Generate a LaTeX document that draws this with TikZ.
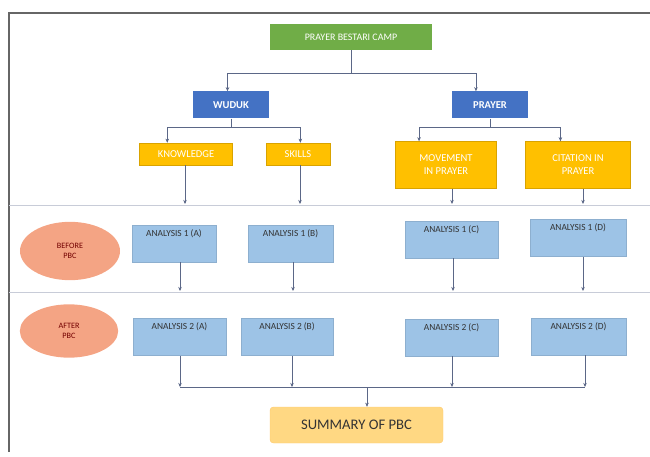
\documentclass[tikz,border=0pt]{standalone}
\usepackage{fontspec}
\setmainfont{Carlito}
\usetikzlibrary{arrows.meta,shapes.geometric}
\definecolor{fgreen}{HTML}{70AD47}
\definecolor{fblue}{HTML}{4472C4}
\definecolor{fyellow}{HTML}{FFC000}
\definecolor{flight}{HTML}{9DC3E6}
\definecolor{fsalmon}{HTML}{F4A484}
\definecolor{fsum}{HTML}{FFD883}
\definecolor{farrow}{HTML}{5B6787}
\definecolor{fsep}{HTML}{C8CCD8}
\begin{document}
\begin{tikzpicture}[x=0.03cm,y=-0.03cm,
  box/.style={draw=none,inner sep=1pt,align=center},
  topbox/.style={box,fill=fgreen,text=white,font=\fontsize{8.5}{10}\selectfont,minimum width=4.86cm,minimum height=0.78cm},
  bluebox/.style={box,fill=fblue,text=white,font=\fontsize{9}{10}\selectfont\bfseries,minimum width=2.28cm,minimum height=0.81cm},
  yelbox/.style={box,fill=fyellow,draw=fyellow!85!black,line width=0.4pt,text=white,font=\fontsize{9}{11}\selectfont},
  anbox/.style={box,fill=flight,draw=flight!90!black,line width=0.3pt,minimum height=1.12cm},
  antext/.style={text=black!80,font=\fontsize{8}{9.5}\selectfont,inner sep=4pt},
  phase/.style={ellipse,fill=fsalmon,text=red!45!black,font=\fontsize{7}{8.5}\selectfont,align=center,inner sep=0pt},
  conn/.style={draw=farrow,line width=0.4pt},
  arr/.style={conn,-{Stealth[length=3.5pt,width=3pt]}},
  sep/.style={draw=fsep,line width=0.8pt}
]
\useasboundingbox (0,0) rectangle (650,457);
% frame
\draw[black!60,line width=1.2pt] (9,452) -- (9,13) -- (650,13);
\draw[sep] (9,205) -- (650,205);
\draw[sep] (9,292) -- (650,292);

% nodes
\node[topbox] (camp) at (351,37) {PRAYER BESTARI CAMP};
\node[bluebox] (wuduk) at (231,105) {WUDUK};
\node[bluebox] (prayer) at (490,105) {PRAYER};
\node[yelbox,minimum width=2.79cm,minimum height=0.66cm] (know) at (186,154) {KNOWLEDGE};
\node[yelbox,minimum width=1.92cm,minimum height=0.66cm] (skill) at (298,154) {SKILLS};
\node[yelbox,minimum width=3.03cm,minimum height=1.41cm] (move) at (446,165) {MOVEMENT\\IN PRAYER};
\node[yelbox,minimum width=3.15cm,minimum height=1.41cm] (cite) at (578,165) {CITATION IN\\PRAYER};

\node[phase,minimum width=3.0cm,minimum height=1.75cm] (before) at (70,251) {BEFORE\\PBC};
\node[phase,minimum width=2.95cm,minimum height=1.6cm] (after) at (69,331) {AFTER\\PBC};

\node[anbox,minimum width=2.52cm,label={[antext,anchor=north]north:ANALYSIS 1 (A)}] (a1) at (174,243.5) {};
\node[anbox,minimum width=2.55cm,label={[antext,anchor=north]north:ANALYSIS 1 (B)}] (b1) at (290.5,243.5) {};
\node[anbox,minimum width=2.79cm,label={[antext,anchor=north]north:ANALYSIS 1 (C)}] (c1) at (451.5,239.5) {};
\node[anbox,minimum width=2.88cm,label={[antext,anchor=north]north:ANALYSIS 1 (D)}] (d1) at (578,238) {};

\node[anbox,minimum width=2.79cm,label={[antext,anchor=north]north:ANALYSIS 2 (A)}] (a2) at (179.5,337) {};
\node[anbox,minimum width=2.76cm,label={[antext,anchor=north]north:ANALYSIS 2 (B)}] (b2) at (287,337) {};
\node[anbox,minimum width=2.79cm,label={[antext,anchor=north]north:ANALYSIS 2 (C)}] (c2) at (451.5,337.5) {};
\node[anbox,minimum width=2.85cm,label={[antext,anchor=north]north:ANALYSIS 2 (D)}] (d2) at (578.5,336.5) {};

\node[box,fill=fsum,draw=fsum!85!orange,rounded corners=3pt,minimum width=5.19cm,minimum height=1.08cm,text=black!80,font=\fontsize{12.5}{14}\selectfont] (sum) at (356.5,425) {SUMMARY OF PBC};

% coordinates
\coordinate (j0) at (351,73);
\coordinate (jw) at (231,127);
\coordinate (jp) at (490,127);
\coordinate (r1a) at (185,204);
\coordinate (r1b) at (300,204);
\coordinate (r1c) at (452,204);
\coordinate (r1d) at (583,204);
\coordinate (r2a) at (180,291);
\coordinate (r2b) at (293,291);
\coordinate (r2c) at (453,291);
\coordinate (r2d) at (583,291);
\coordinate (r3a) at (180,387);
\coordinate (r3b) at (292,387);
\coordinate (r3c) at (452,387);
\coordinate (r3d) at (585,387);
\coordinate (js) at (367,388);

% connectors
\draw[conn] (camp.south) -- (j0);
\draw[arr] (j0) -| ([xshift=-3]wuduk.north);
\draw[arr] (j0) -| ([xshift=-12]prayer.north);
\draw[conn] (wuduk.south) -- (jw);
\draw[arr] (jw) -| ([xshift=-16]know.north);
\draw[arr] (jw) -| ([xshift=2]skill.north);
\draw[conn] (prayer.south) -- (jp);
\draw[arr] (jp) -| ([xshift=-23]move.north);
\draw[arr] (jp) -| ([xshift=-15]cite.north);

\draw[arr] (know.south -| r1a) -- (r1a);
\draw[arr] (skill.south -| r1b) -- (r1b);
\draw[arr] (move.south -| r1c) -- (r1c);
\draw[arr] (cite.south -| r1d) -- (r1d);

\draw[arr] (a1.south -| r2a) -- (r2a);
\draw[arr] (b1.south -| r2b) -- (r2b);
\draw[arr] (c1.south -| r2c) -- (r2c);
\draw[arr] (d1.south -| r2d) -- (r2d);

\draw[arr] (a2.south -| r3a) -- (r3a);
\draw[arr] (b2.south -| r3b) -- (r3b);
\draw[arr] (c2.south -| r3c) -- (r3c);
\draw[arr] (d2.south -| r3d) -- (r3d);
\draw[conn] (r3a) -- (r3d);
\draw[arr] (js) -- (sum.north -| js);
\end{tikzpicture}
\end{document}
